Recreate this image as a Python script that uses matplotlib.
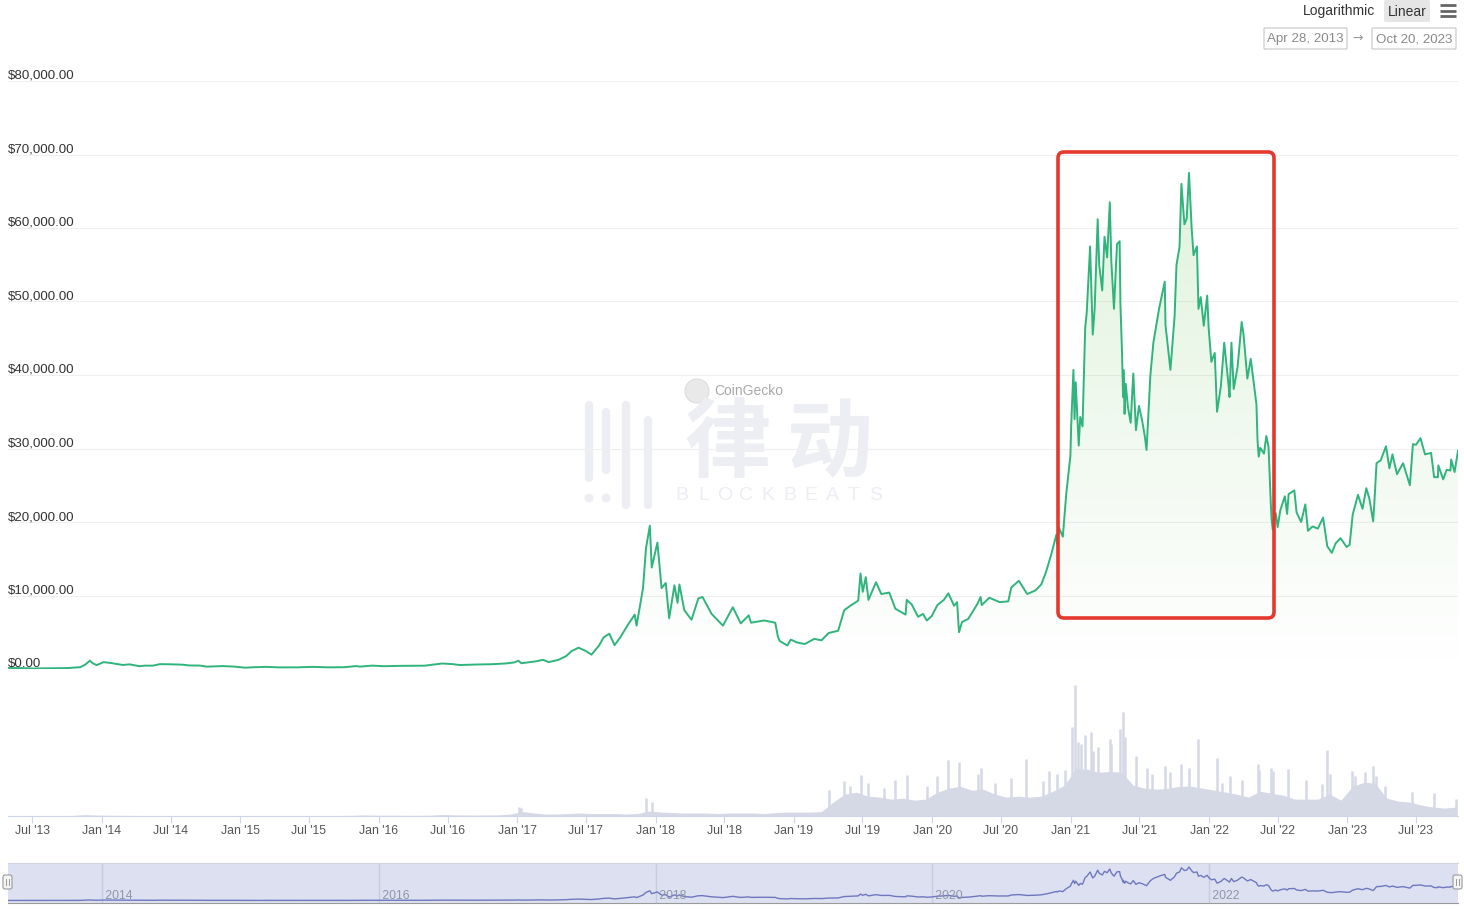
import numpy as np
import pandas as pd
import matplotlib
matplotlib.use("Agg")
import matplotlib.pyplot as plt
import matplotlib.dates as mdates
from matplotlib import transforms
from matplotlib.patches import FancyBboxPatch, Polygon, Circle

plt.rcParams['font.family'] = ['Liberation Sans', 'DejaVu Sans']

# BTC price (USD)
price_points = [
    ("2013-04-28", 135), ("2013-06-01", 122), ("2013-07-05", 70), ("2013-08-15", 100),
    ("2013-10-01", 125), ("2013-11-05", 250), ("2013-11-18", 600), ("2013-11-30", 1130),
    ("2013-12-07", 800), ("2013-12-18", 520), ("2013-12-28", 750), ("2014-01-05", 930),
    ("2014-01-20", 850), ("2014-02-10", 680), ("2014-02-25", 550), ("2014-03-15", 630),
    ("2014-04-10", 380), ("2014-04-25", 460), ("2014-05-15", 450), ("2014-06-03", 660),
    ("2014-07-01", 640), ("2014-08-01", 590), ("2014-08-20", 480), ("2014-09-15", 470),
    ("2014-10-05", 320), ("2014-11-15", 400), ("2014-12-15", 330), ("2015-01-14", 180),
    ("2015-02-01", 230), ("2015-03-10", 290), ("2015-04-15", 220), ("2015-06-01", 225),
    ("2015-07-10", 290), ("2015-08-20", 230), ("2015-10-01", 240), ("2015-11-04", 400),
    ("2015-11-12", 320), ("2015-12-15", 460), ("2016-01-15", 380), ("2016-03-01", 430),
    ("2016-05-01", 450), ("2016-06-17", 750), ("2016-07-15", 660), ("2016-08-02", 540),
    ("2016-09-15", 610), ("2016-10-25", 650), ("2016-12-01", 750), ("2016-12-25", 900),
    ("2017-01-04", 1130), ("2017-01-12", 780), ("2017-02-20", 1050), ("2017-03-10", 1250),
    ("2017-03-25", 940), ("2017-04-20", 1250), ("2017-05-10", 1750), ("2017-05-25", 2450),
    ("2017-06-12", 2900), ("2017-07-01", 2450), ("2017-07-16", 1950), ("2017-08-05", 3200),
    ("2017-08-17", 4300), ("2017-09-01", 4800), ("2017-09-15", 3250), ("2017-09-30", 4300),
    ("2017-10-20", 6000), ("2017-11-07", 7400), ("2017-11-12", 5900), ("2017-11-29", 11000),
    ("2017-12-07", 16500), ("2017-12-17", 19500), ("2017-12-22", 13800), ("2018-01-06", 17200),
    ("2018-01-17", 11000), ("2018-01-28", 11700), ("2018-02-06", 6900), ("2018-02-20", 11400),
    ("2018-02-28", 9000), ("2018-03-05", 11500), ("2018-03-18", 8000), ("2018-04-06", 6700),
    ("2018-04-24", 9600), ("2018-05-05", 9800), ("2018-05-29", 7500), ("2018-06-28", 5900),
    ("2018-07-24", 8400), ("2018-08-14", 6200), ("2018-09-04", 7300), ("2018-09-10", 6300),
    ("2018-10-15", 6600), ("2018-11-13", 6300), ("2018-11-20", 4400), ("2018-11-25", 3800),
    ("2018-12-15", 3200), ("2018-12-24", 4000), ("2019-01-10", 3600), ("2019-01-30", 3400),
    ("2019-02-24", 4100), ("2019-03-15", 3900), ("2019-04-03", 4900), ("2019-04-28", 5200),
    ("2019-05-14", 8000), ("2019-05-30", 8600), ("2019-06-20", 9300), ("2019-06-26", 13000),
    ("2019-07-02", 10500), ("2019-07-10", 12500), ("2019-07-17", 9400), ("2019-08-06", 11800),
    ("2019-08-20", 10200), ("2019-09-10", 10400), ("2019-09-26", 8200), ("2019-10-23", 7400),
    ("2019-10-26", 9400), ("2019-11-08", 8800), ("2019-11-25", 7100), ("2019-12-08", 7500),
    ("2019-12-18", 6600), ("2019-12-31", 7200), ("2020-01-15", 8700), ("2020-02-01", 9400),
    ("2020-02-13", 10300), ("2020-02-28", 8600), ("2020-03-07", 9100), ("2020-03-12", 5000),
    ("2020-03-20", 6400), ("2020-04-05", 6800), ("2020-04-29", 8800), ("2020-05-08", 9800),
    ("2020-05-11", 8700), ("2020-05-31", 9700), ("2020-06-27", 9100), ("2020-07-20", 9200),
    ("2020-07-28", 11100), ("2020-08-17", 12000), ("2020-09-08", 10200), ("2020-09-30", 10700),
    ("2020-10-15", 11500), ("2020-10-27", 13100), ("2020-11-10", 15500), ("2020-11-24", 18300),
    ("2020-11-26", 17000), ("2020-12-01", 19200), ("2020-12-11", 18000), ("2020-12-20", 23800),
    ("2020-12-31", 29000), ("2021-01-02", 33000), ("2021-01-08", 40700), ("2021-01-11", 34000),
    ("2021-01-14", 39000), ("2021-01-22", 30400), ("2021-01-26", 34300), ("2021-02-01", 33000),
    ("2021-02-08", 46400), ("2021-02-12", 48400), ("2021-02-21", 57500), ("2021-02-28", 45500),
    ("2021-03-05", 49000), ("2021-03-13", 61200), ("2021-03-17", 55000), ("2021-03-25", 51500),
    ("2021-03-31", 58800), ("2021-04-07", 56000), ("2021-04-14", 63500), ("2021-04-18", 55500),
    ("2021-04-25", 49000), ("2021-05-03", 57800), ("2021-05-10", 58200), ("2021-05-12", 49700),
    ("2021-05-16", 43500), ("2021-05-19", 37000), ("2021-05-20", 40700), ("2021-05-23", 34700),
    ("2021-05-26", 38800), ("2021-06-01", 35600), ("2021-06-08", 33500), ("2021-06-15", 40200),
    ("2021-06-22", 32500), ("2021-06-30", 35800), ("2021-07-08", 33900), ("2021-07-15", 31800),
    ("2021-07-20", 29800), ("2021-07-30", 39900), ("2021-08-07", 44400), ("2021-08-22", 49000),
    ("2021-09-06", 52700), ("2021-09-08", 46800), ("2021-09-21", 40700), ("2021-10-02", 48000),
    ("2021-10-07", 55000), ("2021-10-15", 57400), ("2021-10-20", 66000), ("2021-10-28", 60500),
    ("2021-11-03", 61300), ("2021-11-09", 67500), ("2021-11-16", 60000), ("2021-11-21", 56300),
    ("2021-11-30", 57500), ("2021-12-04", 49000), ("2021-12-10", 50600), ("2021-12-18", 46700),
    ("2021-12-27", 50800), ("2021-12-31", 46300), ("2022-01-07", 41800), ("2022-01-16", 43000),
    ("2022-01-22", 35000), ("2022-02-01", 38400), ("2022-02-10", 44400), ("2022-02-22", 38300),
    ("2022-02-24", 37000), ("2022-03-01", 44400), ("2022-03-07", 38100), ("2022-03-17", 41000),
    ("2022-03-28", 47200), ("2022-04-02", 45500), ("2022-04-12", 39500), ("2022-04-21", 42200),
    ("2022-04-30", 38500), ("2022-05-06", 36000), ("2022-05-09", 31000), ("2022-05-12", 28900),
    ("2022-05-16", 30100), ("2022-05-26", 29300), ("2022-06-01", 31700), ("2022-06-07", 30200),
    ("2022-06-13", 22400), ("2022-06-15", 20400), ("2022-06-18", 19000), ("2022-06-26", 21200),
    ("2022-07-01", 19300), ("2022-07-08", 21600), ("2022-07-20", 23500), ("2022-07-26", 21100),
    ("2022-07-30", 23800), ("2022-08-14", 24300), ("2022-08-20", 21300), ("2022-09-01", 20000),
    ("2022-09-12", 22400), ("2022-09-19", 18800), ("2022-10-01", 19400), ("2022-10-15", 19100),
    ("2022-10-29", 20600), ("2022-11-09", 16700), ("2022-11-21", 15800), ("2022-12-01", 17100),
    ("2022-12-14", 17800), ("2022-12-30", 16600), ("2023-01-07", 16900), ("2023-01-15", 21000),
    ("2023-01-29", 23700), ("2023-02-10", 21800), ("2023-02-20", 24600), ("2023-02-28", 23200),
    ("2023-03-10", 20100), ("2023-03-13", 22400), ("2023-03-19", 28000), ("2023-03-30", 28400),
    ("2023-04-13", 30300), ("2023-04-22", 27300), ("2023-04-30", 29200), ("2023-05-12", 26500),
    ("2023-05-28", 28000), ("2023-06-10", 25800), ("2023-06-15", 25000), ("2023-06-23", 30600),
    ("2023-07-01", 30500), ("2023-07-13", 31400), ("2023-07-25", 29200), ("2023-08-10", 29400),
    ("2023-08-18", 26100), ("2023-08-28", 26100), ("2023-08-29", 27700), ("2023-09-11", 25800),
    ("2023-09-20", 27100), ("2023-09-30", 27000), ("2023-10-02", 28500), ("2023-10-11", 26800),
    ("2023-10-16", 28400), ("2023-10-20", 29700),
]
price_dates = [d for d, _ in price_points]
price_usd = [v for _, v in price_points]

# monthly volume level (bn USD), May 2013 .. Oct 2023
volume_start = "2013-05-01"
volume_bn = [
    0.3, 0.3, 0.3, 0.3, 0.4, 0.6, 1.4, 1.0,
    0.8, 0.7, 0.6, 0.5, 0.4, 0.4, 0.3, 0.3, 0.3, 0.4, 0.3, 0.3,
    0.4, 0.4, 0.4, 0.3, 0.3, 0.3, 0.4, 0.5, 0.5, 0.6, 1.0, 0.9,
    0.8, 0.8, 0.7, 0.7, 0.8, 1.5, 1.2, 1.0, 0.9, 1.0, 1.2, 2.0,
    4.5, 3.0, 2.0, 2.0, 2.5, 3.0, 2.5, 2.5, 2.5, 2.0, 2.5, 5.0,
    4.0, 3.5, 3.0, 3.0, 3.0, 2.5, 3.0, 3.0, 3.0, 2.5, 3.5, 4.0,
    4.0, 4.0, 4.5, 14, 22, 24, 20, 19, 17, 18, 16, 17,
    24, 28, 30, 26, 27, 22, 19, 20, 19, 20, 25, 31,
    48, 47, 44, 45, 44, 31, 28, 27, 28, 30, 30, 28,
    26, 24, 22, 19, 25, 23, 21, 17, 17, 17, 22, 16,
    30, 34, 33, 18, 15, 14, 11, 9, 8, 9,
]
# single-day volume spikes
spike_dates = ["2017-01-05", "2017-01-12", "2017-12-08", "2017-12-22", "2019-04-03",
               "2019-05-14", "2019-05-30", "2019-06-27", "2019-07-17", "2019-08-28",
               "2019-09-25", "2019-10-26", "2019-12-18", "2020-01-14", "2020-02-13",
               "2020-03-13", "2020-04-30", "2020-05-10", "2020-06-15", "2020-07-28",
               "2020-09-05", "2020-10-21", "2020-11-05", "2020-11-26", "2020-12-17",
               "2021-01-04", "2021-01-11", "2021-01-21", "2021-01-29", "2021-02-08",
               "2021-02-23", "2021-03-01", "2021-03-15", "2021-04-14", "2021-04-18",
               "2021-05-12", "2021-05-19", "2021-05-24", "2021-06-22", "2021-07-21",
               "2021-08-04", "2021-09-07", "2021-09-21", "2021-10-20", "2021-11-10",
               "2021-12-04", "2022-01-22", "2022-02-04", "2022-02-24", "2022-03-28",
               "2022-05-10", "2022-05-12", "2022-06-13", "2022-06-18", "2022-07-27",
               "2022-09-13", "2022-10-26", "2022-11-09", "2022-11-15", "2023-01-14",
               "2023-01-21", "2023-02-16", "2023-03-10", "2023-03-17", "2023-04-11",
               "2023-06-21", "2023-08-17", "2023-10-16"]
spike_bn = [9, 8, 18, 14, 26,
            35, 30, 41, 33, 28,
            36, 41, 30, 40, 56,
            54, 42, 48, 33, 38,
            57, 35, 45, 42, 46,
            90, 132, 75, 73, 82,
            85, 65, 70, 78, 73,
            88, 105, 80, 60, 48,
            42, 50, 44, 52, 48,
            78, 58, 33, 40, 36,
            52, 46, 48, 45, 47,
            36, 32, 67, 42, 45,
            40, 44, 50, 40, 30,
            24, 23, 17]

y_ticks = [0, 10000, 20000, 30000, 40000, 50000, 60000, 70000, 80000]
x_tick_dates = ["2013-07-01", "2014-01-01", "2014-07-01", "2015-01-01", "2015-07-01",
                "2016-01-01", "2016-07-01", "2017-01-01", "2017-07-01", "2018-01-01",
                "2018-07-01", "2019-01-01", "2019-07-01", "2020-01-01", "2020-07-01",
                "2021-01-01", "2021-07-01", "2022-01-01", "2022-07-01", "2023-01-01",
                "2023-07-01"]
x_tick_labels = ["Jul '13", "Jan '14", "Jul '14", "Jan '15", "Jul '15", "Jan '16", "Jul '16",
                 "Jan '17", "Jul '17", "Jan '18", "Jul '18", "Jan '19", "Jul '19", "Jan '20",
                 "Jul '20", "Jan '21", "Jul '21", "Jan '22", "Jul '22", "Jan '23", "Jul '23"]
nav_years = ["2014", "2016", "2018", "2020", "2022"]
start_label, end_label = "Apr 28, 2013", "Oct 20, 2023"


def dnum(dates):
    return mdates.date2num(pd.to_datetime(dates).to_pydatetime())


t = dnum(price_dates)
p = np.array(price_usd, dtype=float)
x0, x1 = dnum(["2013-04-28", "2023-10-20"])

W, H = 1464, 911
fig = plt.figure(figsize=(W / 100, H / 100), dpi=100)
fig.patch.set_facecolor("white")


def pix_axes(l, t_, r, b, z):
    a = fig.add_axes([l / W, 1 - b / H, (r - l) / W, (b - t_) / H], zorder=z)
    a.set_facecolor("none")
    return a


# background layer: watermark
bg = pix_axes(0, 0, W, H, 0)
bg.set_xlim(0, W)
bg.set_ylim(H, 0)
bg.axis("off")
wm = "#eceef4"
for bx, ytop, ybot in [(589, 405, 478), (606, 412, 470), (626, 405, 505), (648, 420, 505)]:
    bg.plot([bx, bx], [ytop, ybot], color=wm, lw=6, solid_capstyle="round")
for bx in (589, 606):
    bg.add_patch(Circle((bx, 498), 4.5, color=wm, lw=0))
cjk = ["Noto Sans CJK SC", "DejaVu Sans"]
bg.text(727, 445, "律", fontsize=62, fontweight="bold", color=wm, ha="center", va="center",
        family=cjk)
bg.text(830, 445, "动", fontsize=62, fontweight="bold", color=wm, ha="center", va="center",
        family=cjk)
for i, ch in enumerate("BLOCKBEATS"):
    bg.text(682 + i * 21.5, 496, ch, fontsize=14, color=wm, ha="center", va="center")
bg.add_patch(Circle((697, 391), 12, fc="#e9e9e9", ec="#dddddd", lw=0.8))
bg.text(714, 391, "CoinGecko", fontsize=10, color="#a9a9a9", ha="left", va="center")

# price panel
ax = pix_axes(8, 81, 1458, 669, 2)
for v in y_ticks:
    ax.axhline(v, color="#efefef", lw=0.8, zorder=0)
    ax.text(0, v, "${:,.2f}".format(v), fontsize=9.6, color="#333333", ha="left", va="center",
            transform=transforms.offset_copy(ax.get_yaxis_transform(), fig=fig, y=5, units="dots"))

grad = np.zeros((256, 1, 4))
grad[..., :3] = matplotlib.colors.to_rgb("#7acb6c")
grad[:, 0, 3] = np.linspace(0.27, 0.0, 256)
im = ax.imshow(grad, extent=[x0, x1, 0, 80000], aspect="auto", origin="upper",
               interpolation="bilinear", zorder=1)
verts = [(t[0], 0)] + list(zip(t, p)) + [(t[-1], 0)]
clip = Polygon(verts, closed=True, fc="none", ec="none", transform=ax.transData)
ax.add_patch(clip)
im.set_clip_path(clip)
ax.plot(t, p, color="#2fb47c", lw=1.4, zorder=3, solid_joinstyle="round")
ax.set_xlim(x0, x1)
ax.set_ylim(0, 80000)
ax.axis("off")

# volume panel
vax = pix_axes(8, 685, 1458, 816, 2)
vt = dnum(pd.date_range(volume_start, periods=len(volume_bn), freq="MS")) + 14
vol_col = "#d5d9e6"
vax.fill_between(vt, volume_bn, 0, color=vol_col, lw=0)
vax.vlines(dnum(spike_dates), 0, spike_bn, color=vol_col, lw=1.8)
vax.set_xlim(x0, x1)
vax.set_ylim(0, 132)
for s in ("top", "left", "right"):
    vax.spines[s].set_visible(False)
vax.spines["bottom"].set_color("#ccd6eb")
vax.set_yticks([])
vax.set_xticks(dnum(x_tick_dates))
vax.set_xticklabels(x_tick_labels)
vax.tick_params(axis="x", length=5, width=0.8, color="#ccd6eb", labelcolor="#555555",
                labelsize=8.8, pad=1.5)

# navigator
nav = pix_axes(8, 863, 1458, 903, 2)
nav.set_facecolor("#dce0f0")
for yr in nav_years:
    xv = dnum([yr + "-01-01"])[0]
    nav.axvline(xv, color="#c7cce0", lw=1)
    nav.text(xv, -3600, " " + yr, fontsize=8.8, color="#9095a8", ha="left", va="bottom")
nav.plot(t, p, color="#6f78bf", lw=1)
nav.set_xlim(x0, x1)
nav.set_ylim(-5000, 75600)
nav.set_xticks([])
nav.set_yticks([])
nav.spines["left"].set_visible(False)
nav.spines["right"].set_visible(False)
nav.spines["top"].set_color("#d0d4e2")
nav.spines["bottom"].set_color("#9a9a9a")

# foreground: highlight box, controls
fg = pix_axes(0, 0, W, H, 4)
fg.set_xlim(0, W)
fg.set_ylim(H, 0)
fg.axis("off")
fg.add_patch(FancyBboxPatch((1058, 152), 216, 466, boxstyle="round,pad=0,rounding_size=6",
                            fc="none", ec="#e5392d", lw=2.6))
for hx in (7.5, 1457.5):
    fg.add_patch(FancyBboxPatch((hx - 4.5, 875), 9, 14, boxstyle="round,pad=0,rounding_size=2",
                                fc="#f4f4f4", ec="#9a9a9a", lw=0.8))
    fg.plot([hx - 1.5, hx - 1.5], [879, 885], color="#9a9a9a", lw=0.7)
    fg.plot([hx + 1.5, hx + 1.5], [879, 885], color="#9a9a9a", lw=0.7)

fg.text(1339, 11.5, "Logarithmic", fontsize=10, color="#333333", ha="center", va="center")
fg.add_patch(FancyBboxPatch((1384, 0), 46, 22, boxstyle="round,pad=0,rounding_size=2",
                            fc="#e6e6e6", ec="none"))
fg.text(1407, 11.5, "Linear", fontsize=10, color="#333333", ha="center", va="center")
for hy in (5, 10.5, 16):
    fg.plot([1440, 1456], [hy, hy], color="#666666", lw=2, solid_capstyle="butt")
fg.add_patch(FancyBboxPatch((1264, 28), 83, 21, boxstyle="round,pad=0,rounding_size=1",
                            fc="white", ec="#cccccc", lw=0.9))
fg.text(1305.5, 39, start_label, fontsize=9.6, color="#8a8a8a", ha="center", va="center")
fg.text(1358, 38, "\u2192", fontsize=9, color="#999999", ha="center", va="center",
        family=["DejaVu Sans"])
fg.add_patch(FancyBboxPatch((1372, 28), 84, 21, boxstyle="round,pad=0,rounding_size=1",
                            fc="white", ec="#cccccc", lw=0.9))
fg.text(1414, 39, end_label, fontsize=9.6, color="#8a8a8a", ha="center", va="center")

fig.savefig("out.png", dpi=100)
